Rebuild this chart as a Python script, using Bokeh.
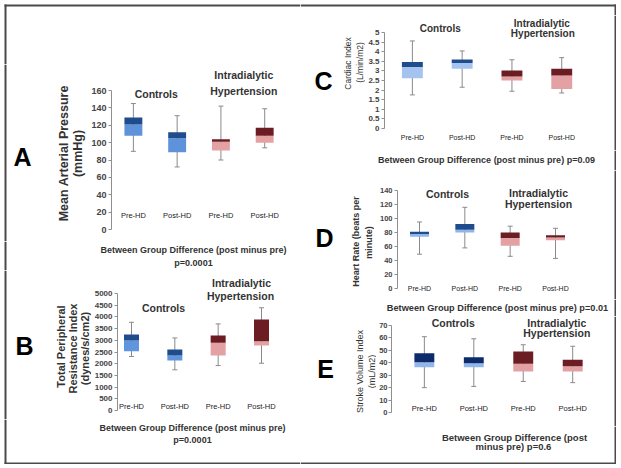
import numpy as np
from bokeh.plotting import figure
from bokeh.models import Range1d, Label, FixedTicker, NumeralTickFormatter, BoxAnnotation
from bokeh.layouts import row, column
from bokeh.embed import file_html
from bokeh.resources import INLINE
from bokeh.core.properties import value

FONT = "Liberation Sans"

# ---------------- data ----------------
timepoints = ["Pre-HD", "Post-HD", "Pre-HD", "Post-HD"]
groups = ["Controls", "Controls", "Intradialytic Hypertension", "Intradialytic Hypertension"]

# A: Mean Arterial Pressure (mmHg)
map_low = [90, 72, 80, 94]
map_q1 = [108, 89, 91, 100]
map_median = [121, 105, 101, 108]
map_q3 = [129, 112, 104, 117]
map_high = [145, 131, 142, 139]

# B: Total Peripheral Resistance Index (dynes/s/cm2)
tpri_low = [2310, 1740, 1920, 2020]
tpri_q1 = [2530, 2140, 2350, 2780]
tpri_median = [2990, 2350, 2890, 2960]
tpri_q3 = [3250, 2610, 3200, 3890]
tpri_high = [3770, 3100, 3700, 4390]

# C: Cardiac Index (L/min/m2)
ci_low = [1.75, 2.15, 1.94, 1.85]
ci_q1 = [2.62, 3.11, 2.50, 2.06]
ci_median = [3.20, 3.41, 2.71, 2.76]
ci_q3 = [3.46, 3.60, 3.02, 3.11]
ci_high = [4.56, 4.04, 3.58, 3.69]

# D: Heart Rate (beats per minute)
hr_low = [49, 58, 46, 43]
hr_q1 = [74, 80, 61, 69]
hr_median = [78, 84, 72, 73]
hr_q3 = [81, 92, 80, 76]
hr_high = [95, 116, 89, 86]

# E: Stroke Volume Index (mL/m2)
svi_low = [20, 21, 25, 24]
svi_q1 = [36.5, 36.5, 33, 33]
svi_median = [40.5, 39.7, 39.2, 37.2]
svi_q3 = [47.7, 44.5, 49, 42.4]
svi_high = [61, 59.3, 54.5, 53.3]

# ---------------- layout / style ----------------
IH_LIGHT = "#e3a1a4"
IH_DARK = "#6b1d23"
TC = "#333333"
BORDER = "#4a4a4a"
R = np.pi / 2
BL, BR, BT, BB = 4, 616, 4, 464   # outer frame box (pixels)


def blank_fig(w, h, xr, yr):
    f = figure(width=w, height=h, x_range=xr, y_range=yr, output_backend="svg",
               toolbar_location=None, x_axis_location=None, y_axis_location=None, title=None,
               min_border_left=0, min_border_right=0, min_border_top=0, min_border_bottom=0)
    f.outline_line_color = None
    f.xgrid.visible = False
    f.ygrid.visible = False
    f.background_fill_color = "white"
    f.border_fill_color = "white"
    return f


def add_label(f, x, y, txt, size, style, color, angle):
    f.add_layout(Label(x=x, y=y, text=txt, text_font=FONT, text_font_size=f"{size}px",
                       text_font_style=style, text_color=color, text_align="center",
                       text_baseline="middle", angle=angle))


def frame_piece(f, **kw):
    f.add_layout(BoxAnnotation(fill_color=BORDER, fill_alpha=1.0, line_color=None, **kw))


def make_panel(g, low, q1, med, q3, high, side_texts, plot_texts, foot_texts,
               ctrl_light, ctrl_dark, fmt="0"):
    x0, y0, W, H = g["canvas"]
    borders = g["borders"]
    hy = g.get("header_y")
    top = hy if hy is not None else y0
    sx, fy = g["split_x"], g["footer_y"]
    ax = g["axis_x"]
    right = x0 + W
    bottom = y0 + H
    ytop, yzero, ymax = g["ytop"], g["yzero"], g["ymax"]
    ppu = (yzero - ytop) / ymax
    yend = ymax + (ytop - top) / ppu
    ystart = -(fy - yzero) / ppu
    c1, c4 = g["c1"], g["c4"]
    xppu = (c4 - c1) / 3.0
    xstart = 1 - (c1 - ax) / xppu
    xend = 4 + (right - c4) / xppu

    def px2data(ix, iy):
        return xstart + (ix - ax) / xppu, ymax - (iy - ytop) / ppu

    p = figure(width=right - sx, height=fy - top, x_range=Range1d(xstart, xend),
               y_range=Range1d(ystart, yend), output_backend="svg", toolbar_location=None,
               x_axis_location=None, title=None,
               min_border_left=ax - sx, min_border_right=0, min_border_top=0, min_border_bottom=0)
    p.outline_line_color = None
    p.xgrid.visible = False
    p.ygrid.visible = False
    p.background_fill_color = "white"
    p.border_fill_color = "white"

    ya = p.yaxis[0]
    ya.ticker = FixedTicker(ticks=list(np.arange(0, ymax + g["step"] / 2, g["step"])))
    ya.formatter = NumeralTickFormatter(format=fmt)
    ya.bounds = (0, ymax)
    ya.axis_line_color = "#8f8f8f"
    ya.major_tick_line_color = "#8f8f8f"
    ya.major_tick_in = 0
    ya.major_tick_out = 3
    ya.minor_tick_line_color = None
    ya.major_label_text_font = FONT
    ya.major_label_text_font_style = "bold"
    ya.major_label_text_font_size = f"{g['tick_size']}px"
    ya.major_label_text_color = "#444444"
    ya.major_label_standoff = g.get("standoff", 2)

    xs = list(range(1, len(timepoints) + 1))
    bw = g["box_px"] / xppu
    cap = 2.5 / xppu
    light = [ctrl_light if grp == "Controls" else IH_LIGHT for grp in groups]
    dark = [ctrl_dark if grp == "Controls" else IH_DARK for grp in groups]

    p.segment(x0=xs, y0=low, x1=xs, y1=high, line_color="#8a8a8a", line_width=1)
    p.segment(x0=[x - cap for x in xs], y0=low, x1=[x + cap for x in xs], y1=low,
              line_color="#8a8a8a", line_width=1)
    p.segment(x0=[x - cap for x in xs], y0=high, x1=[x + cap for x in xs], y1=high,
              line_color="#8a8a8a", line_width=1)
    p.vbar(x=xs, width=bw, bottom=q1, top=med, fill_color=light, line_color=None)
    p.vbar(x=xs, width=bw, bottom=med, top=q3, fill_color=dark, line_color=None)

    _, ly = px2data(0, g["cat_y"])
    p.text(x=xs, y=[ly] * len(xs), text=timepoints, text_align="center", text_baseline="middle",
           text_font=value(FONT), text_font_size=f"{g['cat_size']}px", text_color="#222222")

    for ix, iy, txt, size, style, color in plot_texts:
        x, y = px2data(ix, iy)
        add_label(p, x, y, txt, size, style, color, 0)

    s = blank_fig(sx - x0, fy - top, Range1d(x0, sx), Range1d(fy, top))
    for ix, iy, txt, size, style, color, angle in side_texts:
        add_label(s, ix, iy, txt, size, style, color, angle)

    ft = blank_fig(W, bottom - fy, Range1d(x0, right), Range1d(bottom, fy))
    for ix, iy, txt, size in foot_texts:
        add_label(ft, ix, iy, txt, size, "bold", TC, 0)

    hd = None
    if hy is not None:
        hd = blank_fig(W, hy - y0, Range1d(x0, right), Range1d(hy, y0))

    # outer frame pieces
    if "left" in borders:
        frame_piece(s, left=BL, right=BL + 2)
        frame_piece(ft, left=BL, right=BL + 2, bottom=min(BB, bottom))
        if hd is not None:
            frame_piece(hd, left=BL, right=BL + 2, top=BT)
    if "right" in borders:
        frame_piece(p, left=px2data(BR - 2, 0)[0])
        frame_piece(ft, left=BR - 2, right=BR, bottom=min(BB, bottom))
        if hd is not None:
            frame_piece(hd, left=BR - 2, right=BR, top=BT)
    if "top" in borders and hd is not None:
        frame_piece(hd, left=max(BL, x0), right=min(BR, right), top=BT, bottom=BT + 2)
    if "bottom" in borders:
        frame_piece(ft, left=max(BL, x0), right=min(BR, right), top=BB - 2, bottom=BB)

    parts = ([hd] if hd else []) + [row(s, p), ft]
    return column(*parts)


gA = dict(canvas=(0, 0, 300, 270), header_y=64, borders={"left", "top"},
          split_x=88, footer_y=241, axis_x=110, ytop=90, yzero=229,
          ymax=160, step=20, c1=132, c4=264, box_px=18, cat_y=215, cat_size=7.5, tick_size=9)
pA = make_panel(
    gA, map_low, map_q1, map_median, map_q3, map_high,
    [(22, 156, "A", 25, "bold", "black", 0),
     (63, 151, "Mean Arterial  Pressure", 12.5, "bold", TC, R),
     (77, 153, "(mmHg)", 12.5, "bold", TC, R)],
    [(155, 93, "Controls", 10.5, "bold", TC),
     (243, 74, "Intradialytic", 10.5, "bold", TC),
     (243, 90, "Hypertension", 10.5, "bold", TC)],
    [(193, 249, "Between Group Difference (post minus pre)", 9),
     (193, 262, "p=0.0001", 9)],
    "#5e93dc", "#1f4d8c")

gB = dict(canvas=(0, 270, 300, 194), borders={"left", "bottom"},
          split_x=91, footer_y=419, axis_x=117, ytop=293, yzero=410,
          ymax=5000, step=500, c1=131, c4=261, box_px=15, cat_y=406, cat_size=7.5, tick_size=8)
pB = make_panel(
    gB, tpri_low, tpri_q1, tpri_median, tpri_q3, tpri_high,
    [(24, 345, "B", 25, "bold", "black", 0),
     (60, 346, "Total Peripheral", 11, "bold", TC, R),
     (72, 348, "Resistance Index", 11, "bold", TC, R),
     (84, 348, "(dynes/s/cm2)", 11, "bold", TC, R)],
    [(163, 307, "Controls", 10.5, "bold", TC),
     (241, 282, "Intradialytic", 10.5, "bold", TC),
     (240, 295, "Hypertension", 10.5, "bold", TC)],
    [(192, 427, "Between Group Difference (post minus pre)", 9),
     (192, 439, "p=0.0001", 9)],
    "#5f96de", "#1f4d8c")

gC = dict(canvas=(300, 0, 316, 170), header_y=15, borders={"top", "right"},
          split_x=365, footer_y=150, axis_x=383, ytop=32, yzero=128,
          ymax=5, step=0.5, c1=411, c4=561, box_px=21, cat_y=137, cat_size=7, tick_size=8)
pC = make_panel(
    gC, ci_low, ci_q1, ci_median, ci_q3, ci_high,
    [(323, 80, "C", 25, "bold", "black", 0),
     (347, 63, "Cardiac Index", 8.5, "normal", TC, R),
     (359, 62, "(L/min/m2)", 8.5, "normal", TC, R)],
    [(439, 28, "Controls", 10, "bold", TC),
     (541, 23, "Intradialytic", 10, "bold", TC),
     (542, 33, "Hypertension", 10, "bold", TC)],
    [(486, 159, "Between Group Difference (post minus pre) p=0.09", 9)],
    "#a4c4ef", "#1f4d8c", fmt="0.[0]")

gD = dict(canvas=(300, 170, 316, 146), borders={"right"},
          split_x=374, footer_y=299, axis_x=397, ytop=190, yzero=288,
          ymax=140, step=20, c1=419, c4=555, box_px=19, cat_y=288, cat_size=7, tick_size=7.5)
pD = make_panel(
    gD, hr_low, hr_q1, hr_median, hr_q3, hr_high,
    [(324, 237, "D", 25, "bold", "black", 0),
     (355, 241, "Heart Rate (beats per", 9, "bold", TC, R),
     (368, 242, "minute)", 9, "bold", TC, R)],
    [(447, 193, "Controls", 10.5, "bold", TC),
     (538, 192, "Intradialytic", 10.5, "bold", TC),
     (538, 203, "Hypertension", 10.5, "bold", TC)],
    [(497, 307, "Between Group Difference (post minus pre) p=0.01", 9.2)],
    "#8fb6ec", "#1f4d8c")

gE = dict(canvas=(300, 316, 316, 148), borders={"right", "bottom"},
          split_x=376, footer_y=426, axis_x=390, ytop=325, yzero=412,
          ymax=70, step=10, c1=423, c4=572, box_px=20, cat_y=408, cat_size=7.5, tick_size=7.5,
          standoff=1)
pE = make_panel(
    gE, svi_low, svi_q1, svi_median, svi_q3, svi_high,
    [(325, 368, "E", 25, "bold", "black", 0),
     (359, 371, "Stroke Volume Index", 9, "normal", TC, R),
     (371, 371, "(mL/m2)", 9, "normal", TC, R)],
    [(452, 322, "Controls", 10.5, "bold", TC),
     (556, 322, "Intradialytic", 10.5, "bold", TC),
     (556, 332, "Hypertension", 10.5, "bold", TC)],
    [(514, 437, "Between Group Difference (post", 9.5),
     (513, 446, "minus pre) p=0.6", 9.5)],
    "#93b6ea", "#0c2b6b")

root = row(column(pA, pB), column(pC, pD, pE))

open("out.html", "w").write(file_html(root, INLINE))
